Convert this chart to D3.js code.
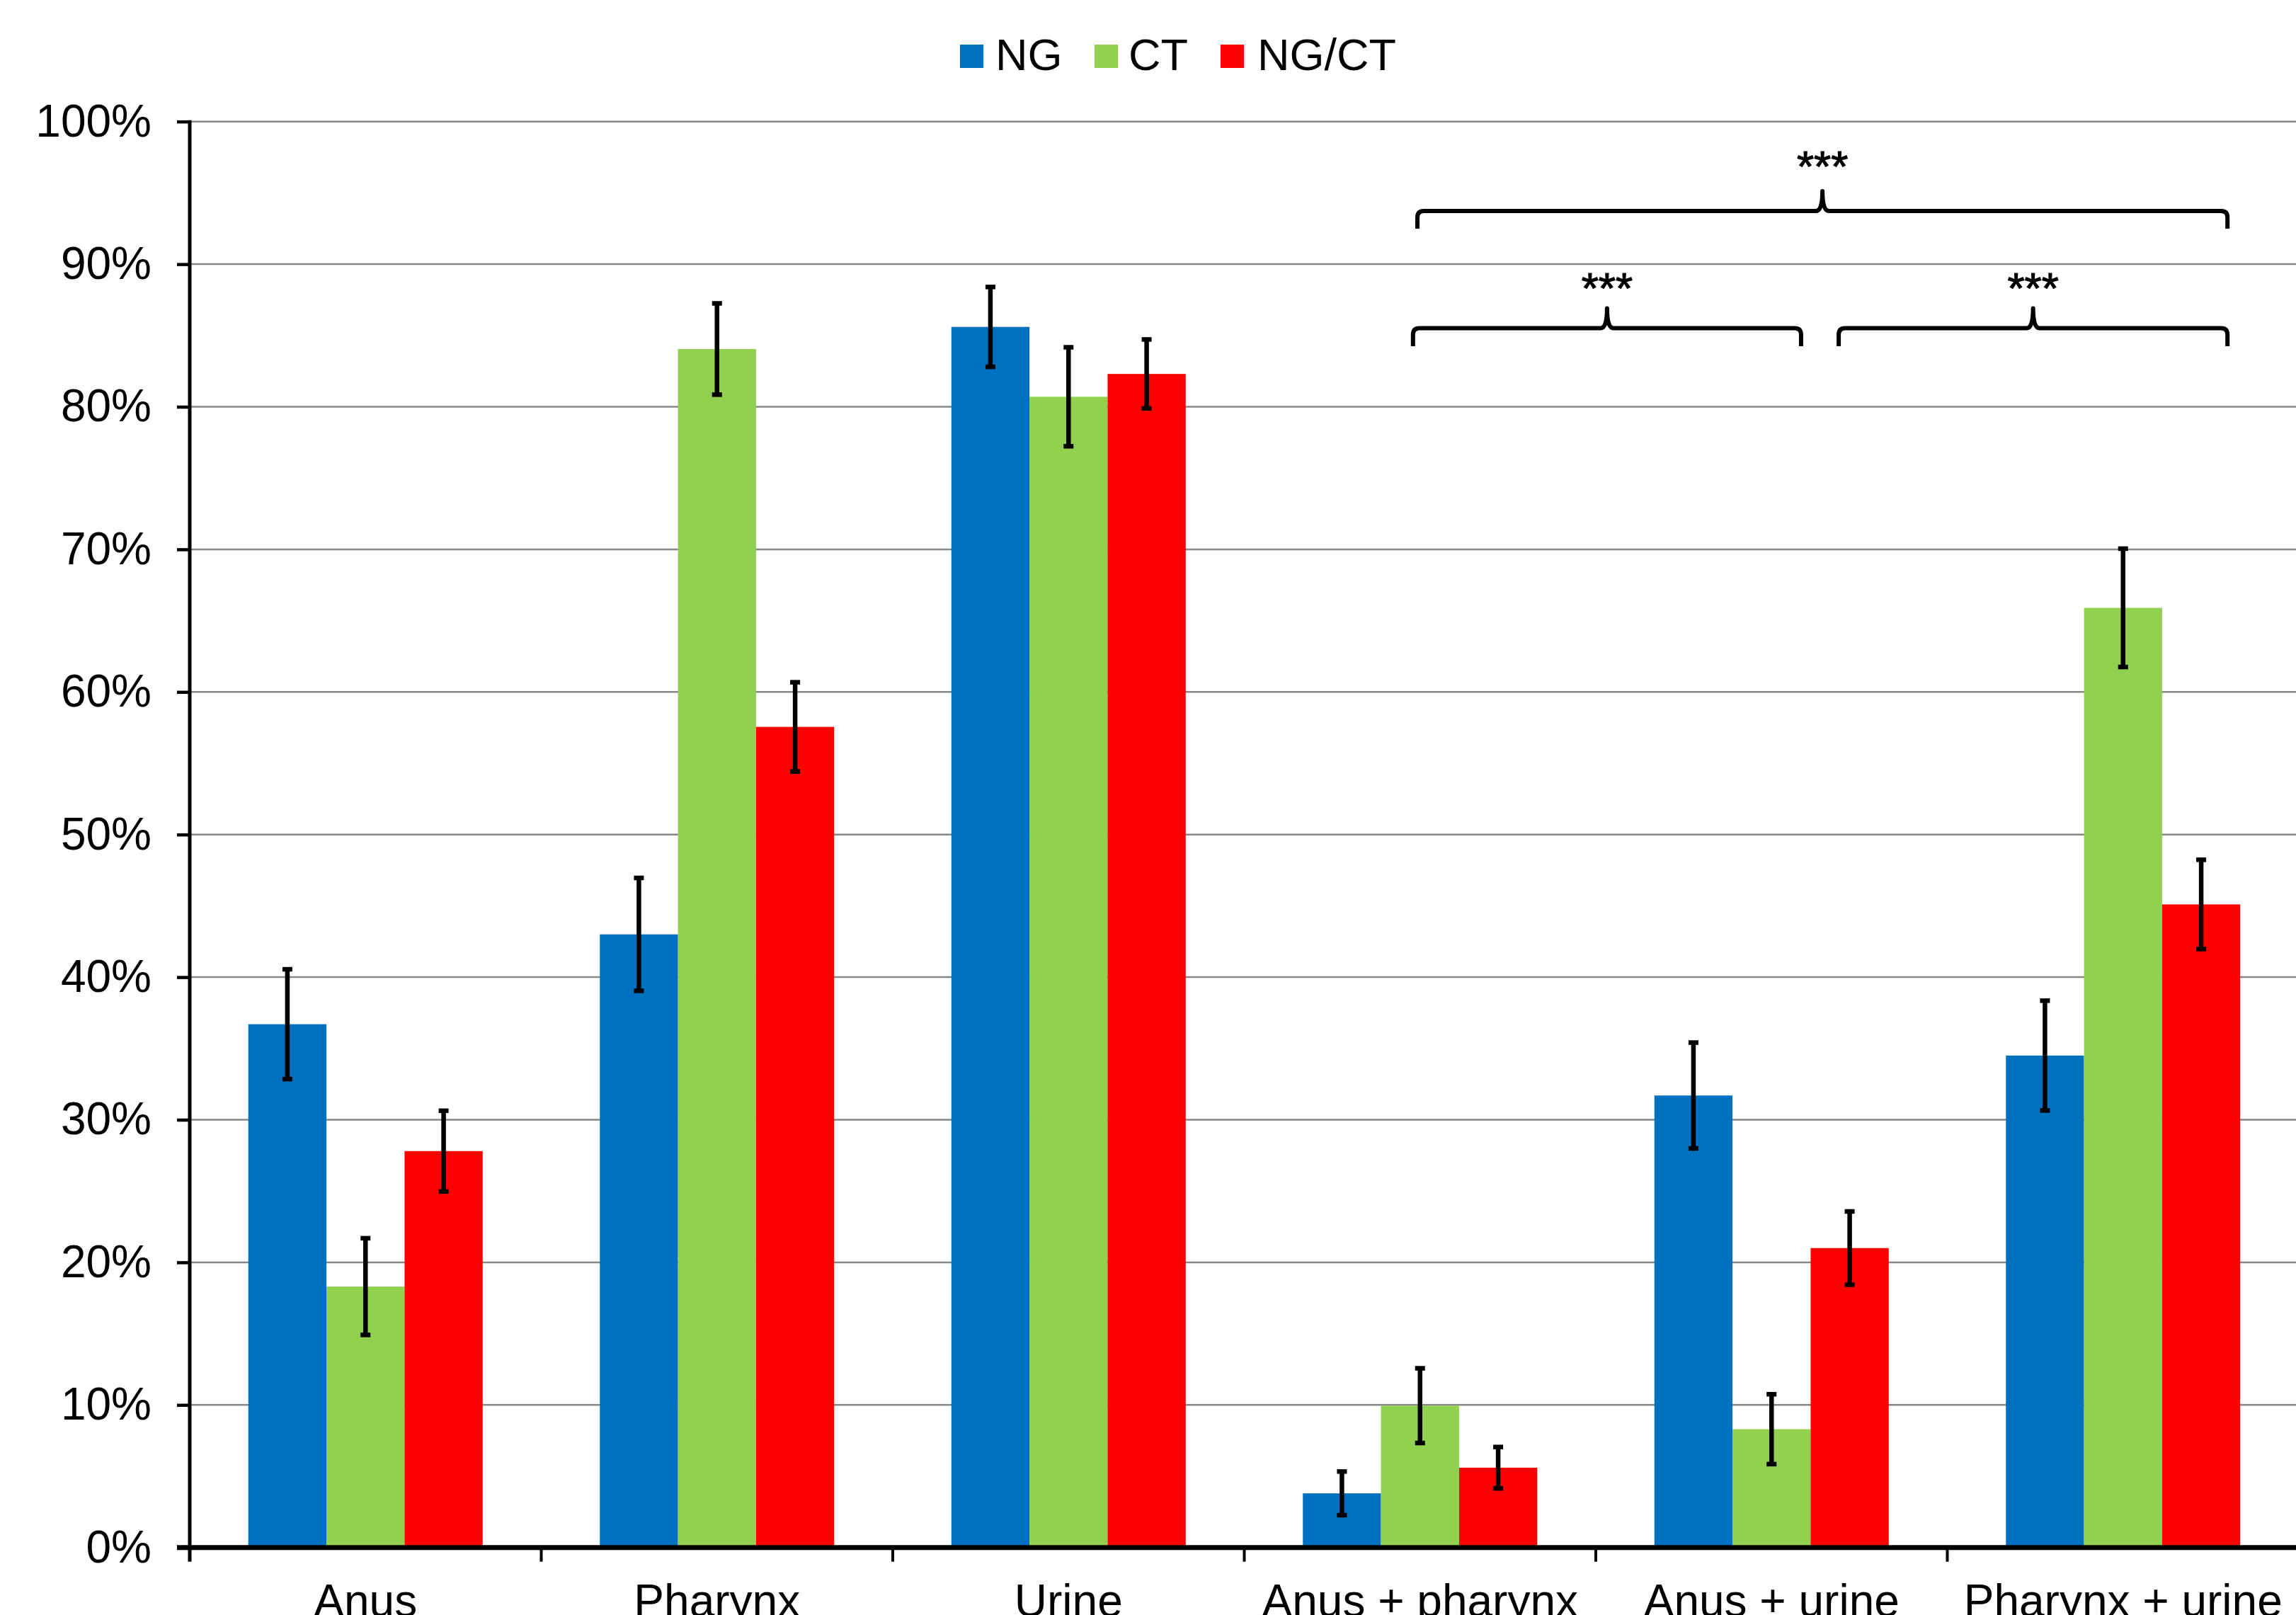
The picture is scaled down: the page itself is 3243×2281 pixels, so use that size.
<!DOCTYPE html>
<html>
<head>
<meta charset="utf-8">
<script src="https://cdn.jsdelivr.net/npm/d3@7"></script>
<style>
  html, body { margin: 0; padding: 0; background: #fff; }
  svg { display: block; }
  text { font-family: "Liberation Sans", Arial, sans-serif; fill: #000; }
</style>
</head>
<body>
<script>
// ---------- data ----------
const categories = ["Anus", "Pharynx", "Urine", "Anus + pharynx", "Anus + urine", "Pharynx + urine"];
const seriesNames = ["NG", "CT", "NG/CT"];
const seriesColors = ["#0070C0", "#92D050", "#FF0000"];
const ngValues   = [36.7, 43.0, 85.6, 3.8, 31.7, 34.5];
const ngErrors   = [3.85, 3.96, 2.8, 1.53, 3.71, 3.85];
const ctValues   = [18.3, 84.05, 80.7, 9.95, 8.3, 65.9];
const ctErrors   = [3.39, 3.2, 3.47, 2.62, 2.45, 4.15];
const ngctValues = [27.8, 57.55, 82.3, 5.6, 21.0, 45.1];
const ngctErrors = [2.83, 3.13, 2.42, 1.45, 2.57, 3.13];
const yTicks = [0, 10, 20, 30, 40, 50, 60, 70, 80, 90, 100];
// significance brackets: [category, fraction of category step] for left/right
const brackets = [
  { from: [3, 0.4925], to: [5, 0.797], level: 0, label: "***" },
  { from: [3, 0.48],   to: [4, 0.584], level: 1, label: "***" },
  { from: [4, 0.691],  to: [5, 0.797], level: 1, label: "***" }
];

const allValues = [ngValues, ctValues, ngctValues];
const allErrors = [ngErrors, ctErrors, ngctErrors];

// ---------- layout ----------
const W = 3243, H = 2281;
const plotLeft = 268, plotRight = 3247, plotTop = 171.7, plotBottom = 2185.7;
const legendSquareX = [1356, 1546, 1724];
const legendTextX = [1406, 1594, 1776];

const svg = d3.select("body").append("svg").attr("width", W).attr("height", H);

const x0 = d3.scaleBand().domain(categories).range([plotLeft, plotRight])
  .paddingInner(1/3).paddingOuter(1/6);
const x1 = d3.scaleBand().domain(seriesNames).range([0, x0.bandwidth()]);
const y = d3.scaleLinear().domain([0, 100]).range([plotBottom, plotTop]);
const step = x0.step();
const catStart = i => plotLeft + i * step;

// gridlines
svg.append("g").selectAll("line").data(yTicks.filter(d => d > 0)).join("line")
  .attr("x1", plotLeft).attr("x2", plotRight)
  .attr("y1", d => y(d)).attr("y2", d => y(d))
  .attr("stroke", "#878787").attr("stroke-width", 2.5);

// bars
const rows = [];
categories.forEach((c, i) => seriesNames.forEach((s, j) => {
  rows.push({ c, s, j, v: allValues[j][i], e: allErrors[j][i] });
}));
svg.append("g").selectAll("rect").data(rows).join("rect")
  .attr("x", d => x0(d.c) + x1(d.s))
  .attr("width", x1.bandwidth())
  .attr("y", d => y(d.v))
  .attr("height", d => y(0) - y(d.v))
  .attr("fill", d => seriesColors[d.j]);

// error bars
const eg = svg.append("g").attr("stroke", "#000").attr("stroke-width", 6.5);
rows.forEach(d => {
  const cx = x0(d.c) + x1(d.s) + x1.bandwidth() / 2;
  eg.append("line").attr("x1", cx).attr("x2", cx).attr("y1", y(d.v + d.e)).attr("y2", y(d.v - d.e));
  [d.v + d.e, d.v - d.e].forEach(t => {
    eg.append("line").attr("x1", cx - 7).attr("x2", cx + 7).attr("y1", y(t)).attr("y2", y(t));
  });
});

// y axis
const yAxis = d3.axisLeft(y).tickValues(yTicks).tickFormat(d => d + "%")
  .tickSizeInner(18).tickSizeOuter(0).tickPadding(36);
const yg = svg.append("g").attr("transform", `translate(${plotLeft},0)`).call(yAxis);
yg.select(".domain").remove();
yg.selectAll(".tick line").attr("stroke", "#000").attr("stroke-width", 4.5);
yg.selectAll(".tick text").attr("font-size", 64).attr("font-family", '"Liberation Sans", Arial, sans-serif').attr("fill", "#000");
svg.append("line").attr("x1", plotLeft).attr("x2", plotLeft)
  .attr("y1", plotTop - 2).attr("y2", plotBottom + 20)
  .attr("stroke", "#000").attr("stroke-width", 5);

// x axis
svg.append("line").attr("x1", plotLeft - 18).attr("x2", plotRight)
  .attr("y1", plotBottom).attr("y2", plotBottom)
  .attr("stroke", "#000").attr("stroke-width", 7);
svg.append("g").selectAll("line").data(d3.range(1, categories.length + 1)).join("line")
  .attr("x1", i => catStart(i)).attr("x2", i => catStart(i))
  .attr("y1", plotBottom).attr("y2", plotBottom + 20)
  .attr("stroke", "#000").attr("stroke-width", 4);
svg.append("g").selectAll("text").data(categories).join("text")
  .attr("x", d => x0(d) + x0.bandwidth() / 2)
  .attr("y", 2283)
  .attr("text-anchor", "middle")
  .attr("font-size", 64)
  .text(d => d);

// legend
const lg = svg.append("g");
seriesNames.forEach((s, j) => {
  lg.append("rect").attr("x", legendSquareX[j]).attr("y", 63).attr("width", 33).attr("height", 33).attr("fill", seriesColors[j]);
  lg.append("text").attr("x", legendTextX[j]).attr("y", 99).attr("font-size", 63).text(s);
});

// brackets
const levelY = [{ line: 298, tip: 270, end: 323, text: 256 }, { line: 463.5, tip: 435.5, end: 489, text: 428 }];
const bg = svg.append("g");
brackets.forEach(b => {
  const L = catStart(b.from[0]) + b.from[1] * step;
  const R = catStart(b.to[0]) + b.to[1] * step;
  const M = (L + R) / 2;
  const ly = levelY[b.level];
  const r = 9;
  const p = d3.path();
  p.moveTo(L, ly.end);
  p.lineTo(L, ly.line + r);
  p.quadraticCurveTo(L, ly.line, L + r, ly.line);
  p.lineTo(M - 9, ly.line);
  p.quadraticCurveTo(M, ly.line, M, ly.tip);
  p.quadraticCurveTo(M, ly.line, M + 9, ly.line);
  p.lineTo(R - r, ly.line);
  p.quadraticCurveTo(R, ly.line, R, ly.line + r);
  p.lineTo(R, ly.end);
  bg.append("path").attr("d", p.toString()).attr("fill", "none")
    .attr("stroke", "#000").attr("stroke-width", 6).attr("stroke-linejoin", "round");
  bg.append("text").attr("x", M).attr("y", ly.text).attr("text-anchor", "middle")
    .attr("font-size", 62).attr("stroke", "#000").attr("stroke-width", 1.2).text(b.label);
});
</script>
</body>
</html>
